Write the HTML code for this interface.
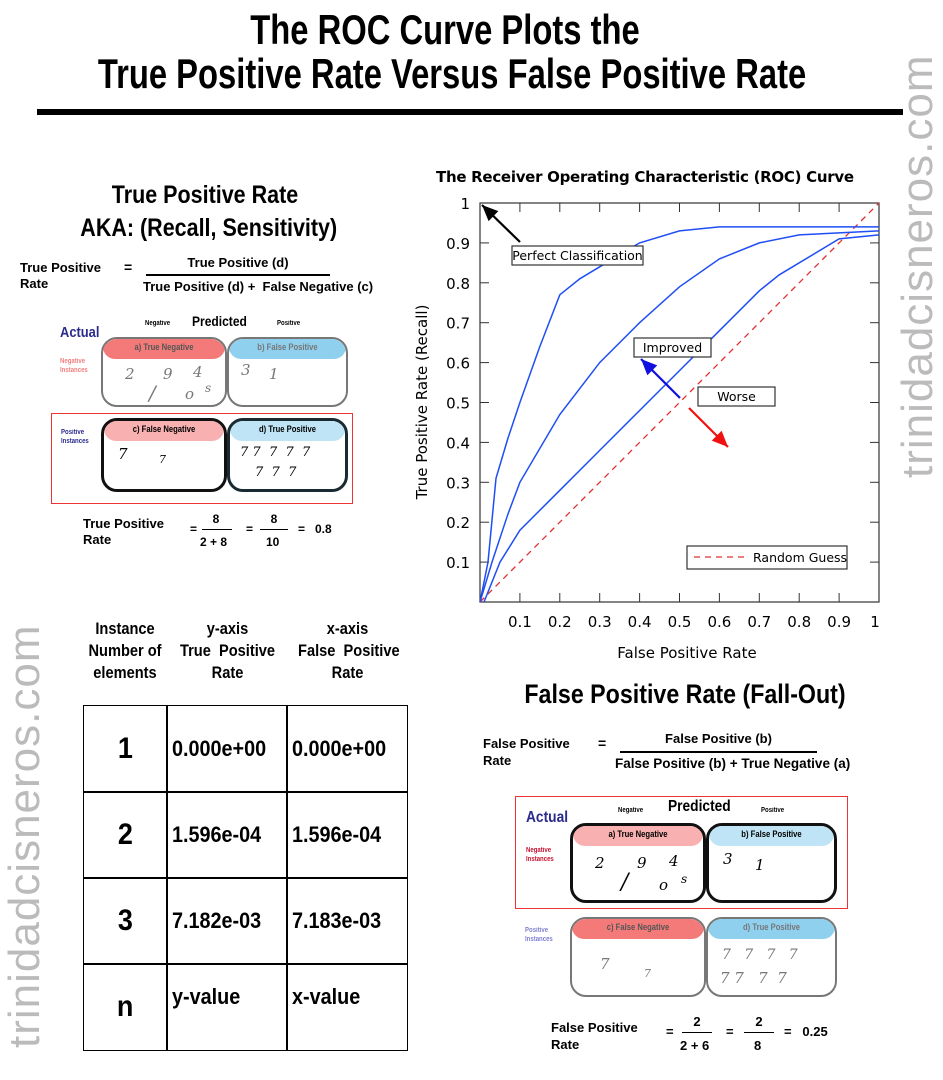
<!DOCTYPE html>
<html><head><meta charset="utf-8">
<style>
*{margin:0;padding:0;box-sizing:border-box}
body{width:943px;height:1080px;background:#fff;position:relative;overflow:hidden;font-family:"Liberation Sans",sans-serif;color:#000}
.a{position:absolute;white-space:nowrap}
.imp{font-family:"Liberation Sans Narrow","Liberation Sans",sans-serif;font-weight:bold;transform:scaleX(.86);transform-origin:0 50%}
.ctr{transform-origin:50% 50%}
.b{font-weight:bold}
.box{position:absolute;border-radius:16px;overflow:hidden;background:#fff}
.band{position:absolute;left:0;right:0;top:0;height:20px;border-radius:0 0 12px 12px}
.band span{position:absolute;left:0;right:0;text-align:center;top:3px;font-size:9px;font-weight:bold;transform:scaleX(.85)}
.dg{position:absolute;font-family:"DejaVu Serif",serif;font-style:italic;font-size:15px}
.cell{position:absolute;border:1.5px solid #000;display:flex;align-items:center}
.cell span{display:inline-block;font-weight:bold;transform:scaleX(.9);transform-origin:0 50%}
</style></head><body>

<div class="a imp ctr" style="left:0;width:890px;top:8px;text-align:center;font-size:42px;line-height:44px;transform:scaleX(.78)">The ROC Curve Plots the<br>True Positive Rate Versus False Positive Rate</div>
<div class="a" style="left:37px;top:109px;width:866px;height:6px;background:#000"></div>

<div class="a" style="left:893px;top:478px;font-size:44px;color:#bbb;transform:rotate(-90deg);transform-origin:0 0;letter-spacing:1px">trinidadcisneros.com</div>
<div class="a" style="left:0px;top:1048px;font-size:44px;color:#bbb;transform:rotate(-90deg);transform-origin:0 0;letter-spacing:1px">trinidadcisneros.com</div>

<!-- TPR section -->
<div class="a imp ctr" style="left:60px;width:290px;top:179px;text-align:center;font-size:25px;line-height:33px">True Positive Rate<br>AKA: (Recall, Sensitivity)</div>
<div class="a b" style="left:20px;top:260px;font-size:13px;line-height:16px">True Positive<br>Rate</div>
<div class="a b" style="left:124px;top:259px;font-size:14px">=</div>
<div class="a b" style="left:146px;width:184px;top:255px;text-align:center;font-size:13px">True Positive (d)</div>
<div class="a" style="left:146px;top:274px;width:184px;height:1.5px;background:#000"></div>
<div class="a b" style="left:143px;top:279px;font-size:13px">True Positive (d) +&nbsp; False Negative (c)</div>

<!-- matrix 1 -->
<div class="a imp" style="left:60px;top:324px;font-size:15px;color:#2b2b8c">Actual</div>
<div class="a imp" style="left:192px;top:313px;font-size:14px">Predicted</div>
<div class="a imp" style="left:145px;top:320px;font-size:7px">Negative</div>
<div class="a imp" style="left:277px;top:320px;font-size:7px">Positive</div>
<div class="a imp" style="left:60px;top:357px;font-size:7px;line-height:9px;color:#f08080">Negative<br>Instances</div>
<div class="a imp" style="left:61px;top:428px;font-size:7px;line-height:9px;color:#2b2b8c">Positive<br>Instances</div>
<div class="box" style="left:101px;top:337px;width:126px;height:70px;border:2.5px solid #777"><div class="band" style="background:#f47a7a"><span style="color:#555">a) True Negative</span></div>
<div class="dg" style="left:22px;top:26px;color:#777">2</div><div class="dg" style="left:60px;top:26px;color:#777">9</div><div class="dg" style="left:90px;top:24px;color:#777">4</div><div class="dg" style="left:46px;top:42px;font-size:20px;color:#777">/</div><div class="dg" style="left:82px;top:46px;color:#777">o</div><div class="dg" style="left:102px;top:42px;font-size:12px;color:#777">s</div></div>
<div class="box" style="left:227px;top:337px;width:121px;height:70px;border:2.5px solid #777"><div class="band" style="background:#8fd0ee"><span style="color:#777">b) False Positive</span></div>
<div class="dg" style="left:12px;top:22px;color:#777">3</div><div class="dg" style="left:40px;top:26px;color:#777">1</div></div>
<div class="a" style="left:51px;top:413px;width:302px;height:91px;border:1.5px solid #e33"></div>
<div class="box" style="left:101px;top:418px;width:126px;height:74px;border:3px solid #111"><div class="band" style="background:#f9b0b0"><span>c) False Negative</span></div>
<div class="dg" style="left:14px;top:24px">7</div><div class="dg" style="left:55px;top:32px;font-size:11px">7</div></div>
<div class="box" style="left:227px;top:418px;width:121px;height:74px;border:3px solid #1a2a33"><div class="band" style="background:#bfe4f5"><span>d) True Positive</span></div>
<div class="dg" style="left:10px;top:24px;font-size:13px">7 7&nbsp; 7&nbsp; 7&nbsp; 7</div><div class="dg" style="left:25px;top:44px;font-size:13px">7&nbsp; 7&nbsp; 7</div></div>

<div class="a b" style="left:83px;top:516px;font-size:13px;line-height:16px">True Positive<br>Rate</div>
<div class="a b" style="left:190px;top:512px;font-size:12px">
<span style="position:absolute;left:0;top:10px">=</span>
<span style="position:absolute;left:14px;width:24px;text-align:center;top:0">8</span>
<span style="position:absolute;left:12px;width:30px;top:17px;height:1px;background:#000"></span>
<span style="position:absolute;left:10px;top:23px">2 + 8</span>
<span style="position:absolute;left:56px;top:10px">=</span>
<span style="position:absolute;left:72px;width:24px;text-align:center;top:0">8</span>
<span style="position:absolute;left:70px;width:28px;top:17px;height:1px;background:#000"></span>
<span style="position:absolute;left:76px;top:23px">10</span>
<span style="position:absolute;left:108px;top:10px">=&nbsp;&nbsp; 0.8</span></div>

<!-- table -->
<div class="a imp ctr" style="left:75px;width:100px;top:618px;text-align:center;font-size:17px;line-height:22px">Instance<br>Number of<br>elements</div>
<div class="a imp ctr" style="left:170px;width:115px;top:618px;text-align:center;font-size:17px;line-height:22px">y-axis<br>True&nbsp; Positive<br>Rate</div>
<div class="a imp ctr" style="left:290px;width:115px;top:618px;text-align:center;font-size:17px;line-height:22px">x-axis<br>False&nbsp; Positive<br>Rate</div>
<div id="tbl" class="a" style="left:83px;top:705px;width:325px;height:346px;border:1.5px solid #000"></div>

<!-- ROC chart -->
<svg class="a" style="left:400px;top:160px" width="500" height="510" id="roc"></svg>

<!-- FPR section -->
<div class="a imp ctr" style="left:480px;width:410px;top:679px;text-align:center;font-size:27px">False Positive Rate (Fall-Out)</div>
<div class="a b" style="left:483px;top:735px;font-size:13px;line-height:17px">False Positive<br>Rate</div>
<div class="a b" style="left:598px;top:735px;font-size:14px">=</div>
<div class="a b" style="left:620px;width:197px;top:731px;text-align:center;font-size:13px">False Positive (b)</div>
<div class="a" style="left:620px;top:751px;width:197px;height:1.5px;background:#000"></div>
<div class="a b" style="left:615px;top:756px;font-size:13.5px">False Positive (b) + True Negative (a)</div>

<!-- matrix 2 -->
<div class="a" style="left:515px;top:796px;width:333px;height:113px;border:1.5px solid #e33"></div>
<div class="a imp" style="left:526px;top:809px;font-size:16px;color:#2b2b8c">Actual</div>
<div class="a imp" style="left:668px;top:798px;font-size:16px">Predicted</div>
<div class="a imp" style="left:618px;top:807px;font-size:7px">Negative</div>
<div class="a imp" style="left:761px;top:807px;font-size:7px">Positive</div>
<div class="a imp" style="left:526px;top:846px;font-size:7px;line-height:9px;color:#c8102e">Negative<br>Instances</div>
<div class="a imp" style="left:525px;top:926px;font-size:7px;line-height:9px;color:#8080d0">Positive<br>Instances</div>
<div class="box" style="left:570px;top:823px;width:136px;height:80px;border:3px solid #111"><div class="band" style="background:#f9b0b0"><span>a) True Negative</span></div>
<div class="dg" style="left:22px;top:28px">2</div><div class="dg" style="left:64px;top:28px">9</div><div class="dg" style="left:96px;top:26px">4</div><div class="dg" style="left:48px;top:44px;font-size:22px">/</div><div class="dg" style="left:86px;top:50px">o</div><div class="dg" style="left:108px;top:46px;font-size:12px">s</div></div>
<div class="box" style="left:706px;top:823px;width:131px;height:80px;border:3px solid #111"><div class="band" style="background:#bfe4f5"><span>b) False Positive</span></div>
<div class="dg" style="left:14px;top:24px">3</div><div class="dg" style="left:46px;top:30px">1</div></div>
<div class="box" style="left:570px;top:917px;width:136px;height:80px;border:2.5px solid #777"><div class="band" style="background:#f47a7a"><span style="color:#555">c) False Negative</span></div>
<div class="dg" style="left:28px;top:36px;color:#777">7</div><div class="dg" style="left:72px;top:48px;font-size:11px;color:#777">7</div></div>
<div class="box" style="left:706px;top:917px;width:131px;height:80px;border:2.5px solid #777"><div class="band" style="background:#8fd0ee"><span style="color:#777">d) True Positive</span></div>
<div class="dg" style="left:14px;top:28px;color:#777;font-size:14px">7&nbsp;&nbsp; 7&nbsp;&nbsp; 7&nbsp;&nbsp; 7</div><div class="dg" style="left:12px;top:50px;color:#777;font-size:15px">7 7&nbsp;&nbsp; 7&nbsp; 7</div></div>

<div class="a b" style="left:551px;top:1019px;font-size:13px;line-height:17px">False Positive<br>Rate</div>
<div class="a b" style="left:666px;top:1014px;font-size:13px">
<span style="position:absolute;left:0;top:10px">=</span>
<span style="position:absolute;left:16px;width:30px;text-align:center;top:0">2</span>
<span style="position:absolute;left:16px;width:30px;top:18px;height:1px;background:#000"></span>
<span style="position:absolute;left:14px;top:24px">2 + 6</span>
<span style="position:absolute;left:60px;top:10px">=</span>
<span style="position:absolute;left:78px;width:30px;text-align:center;top:0">2</span>
<span style="position:absolute;left:78px;width:30px;top:18px;height:1px;background:#000"></span>
<span style="position:absolute;left:88px;top:24px">8</span>
<span style="position:absolute;left:118px;top:10px">=&nbsp;&nbsp; 0.25</span></div>

<script>
// ---- table data ----
const rowLabels = ['1','2','3','n'];
const yValues = ['0.000e+00','1.596e-04','7.182e-03','y-value'];
const xValues = ['0.000e+00','1.596e-04','7.183e-03','x-value'];
(function(){
  const t=document.getElementById('tbl');
  const colX=[0,83,203,323], rowH=86;
  for(let r=0;r<4;r++){
    const vals=[rowLabels[r],yValues[r],xValues[r]];
    for(let c=0;c<3;c++){
      const d=document.createElement('div');
      d.className='cell';
      
      
      d.style.left=(colX[c]-1)+'px';d.style.top=(r*rowH-1)+'px';
      d.style.width=(colX[c+1]-colX[c]+1.5)+'px';d.style.height=(rowH+1.5)+'px';
      d.style.justifyContent=c==0?'center':'flex-start';
      d.style.paddingLeft=c==0?'0':'5px';
      d.style.fontSize=c==0?'30px':'22px';
      if(r==3&&c>0){d.style.alignItems='flex-start';d.style.paddingTop='20px';}
      const sp=document.createElement('span');
      sp.textContent=vals[c];
      if(c==0)sp.style.transformOrigin='50% 50%';
      d.appendChild(sp);
      t.appendChild(d);
    }
  }
})();

// ---- ROC data ----
const xTicks=[0.1,0.2,0.3,0.4,0.5,0.6,0.7,0.8,0.9,1];
const yTicks=[0.1,0.2,0.3,0.4,0.5,0.6,0.7,0.8,0.9,1];
const curve1FPR=[0,0.02,0.04,0.07,0.1,0.15,0.2,0.25,0.3,0.4,0.5,0.6,1];
const curve1TPR=[0,0.1,0.31,0.41,0.5,0.64,0.77,0.81,0.84,0.9,0.93,0.94,0.94];
const curve2FPR=[0,0.03,0.07,0.1,0.2,0.3,0.4,0.5,0.6,0.7,0.8,1];
const curve2TPR=[0,0.1,0.22,0.3,0.47,0.6,0.7,0.79,0.86,0.9,0.92,0.93];
const curve3FPR=[0.01,0.05,0.1,0.2,0.3,0.4,0.5,0.6,0.7,0.75,0.9,1];
const curve3TPR=[0,0.1,0.18,0.28,0.38,0.48,0.58,0.68,0.78,0.82,0.91,0.92];
(function(){
  const s=document.getElementById('roc'),NS='http://www.w3.org/2000/svg';
  const X0=80,X1=479,Y0=442,Y1=43;
  const sx=v=>X0+v*(X1-X0), sy=v=>Y0-v*(Y0-Y1);
  function el(tag,attrs,name,txt){const e=document.createElementNS(NS,tag);for(const k in attrs)e.setAttribute(k,attrs[k]);
    
    
    if(txt!==undefined)e.textContent=txt;s.appendChild(e);return e;}
  const F='"DejaVu Sans","Liberation Sans",sans-serif';
  el('text',{x:245,y:22,'text-anchor':'middle','font-size':15,'font-weight':'bold','font-family':F,textLength:418},'chart-title','The Receiver Operating Characteristic (ROC) Curve');
  el('rect',{x:X0,y:Y1,width:X1-X0,height:Y0-Y1,fill:'none',stroke:'#333','stroke-width':1.2},'plot-frame');
  xTicks.forEach(v=>{el('line',{x1:sx(v),x2:sx(v),y1:Y0,y2:Y0-9,stroke:'#333'},'x-tick');el('line',{x1:sx(v),x2:sx(v),y1:Y1,y2:Y1+9,stroke:'#333'},'x-tick-top');
    el('text',{x:sx(v)-(v==1?4:0),y:Y0+25,'text-anchor':'middle','font-size':15,'font-family':F},'x-tick-label',String(v));});
  yTicks.forEach(v=>{el('line',{x1:X0,x2:X0+9,y1:sy(v),y2:sy(v),stroke:'#333'},'y-tick');el('line',{x1:X1,x2:X1-9,y1:sy(v),y2:sy(v),stroke:'#333'},'y-tick-right');
    el('text',{x:X0-10,y:sy(v)+6,'text-anchor':'end','font-size':15,'font-family':F},'y-tick-label',String(v));});
  el('text',{x:287,y:498,'text-anchor':'middle','font-size':15,'font-family':F},'x-axis-title','False Positive Rate');
  el('text',{x:27,y:242,'text-anchor':'middle','font-size':15,'font-family':F,transform:'rotate(-90 27 242)'},'y-axis-title','True Positive Rate (Recall)');
  el('line',{x1:sx(0),y1:sy(0),x2:sx(1),y2:sy(1),stroke:'#e03030','stroke-width':1.3,'stroke-dasharray':'6,5'},'random-guess-line');
  [[curve1FPR,curve1TPR],[curve2FPR,curve2TPR],[curve3FPR,curve3TPR]].forEach((c,i)=>{
    let d='';c[0].forEach((x,j)=>{d+=(j?'L':'M')+sx(x).toFixed(1)+','+sy(c[1][j]).toFixed(1);});
    el('path',{d:d,fill:'none',stroke:'#1f4ef5','stroke-width':1.5},'roc-curve-'+(i+1));
  });
  function arrow(x1,y1,x2,y2,c,name){el('line',{x1,y1,x2,y2,stroke:c,'stroke-width':2.2},name);
    const a=Math.atan2(y2-y1,x2-x1),L=16,W=7;
    const p=[[x2,y2],[x2-L*Math.cos(a)+W*Math.sin(a),y2-L*Math.sin(a)-W*Math.cos(a)],[x2-L*Math.cos(a)-W*Math.sin(a),y2-L*Math.sin(a)+W*Math.cos(a)]];
    el('polygon',{points:p.map(q=>q.join(',')).join(' '),fill:c},name+'-head');}
  arrow(120,82,82,45,'#000','perfect-arrow');
  arrow(280,238,241,199,'#1010e0','improved-arrow');
  arrow(289,248,328,287,'#f01010','worse-arrow');
  function label(x,y,w,h,t,name){el('rect',{x,y,width:w,height:h,fill:'#fff',stroke:'#333','stroke-width':1.2},name+'-box');
    el('text',{x:x+w/2,y:y+h/2+4.5,'text-anchor':'middle','font-size':12.5,'font-family':F},name,t);}
  label(112,86,131,19,'Perfect Classification','perfect-label');
  label(234,178,77,19,'Improved','improved-label');
  label(298,227,77,19,'Worse','worse-label');
  el('rect',{x:287,y:386,width:160,height:23,fill:'#fff',stroke:'#333','stroke-width':1.2},'legend-box');
  el('line',{x1:294,x2:348,y1:397,y2:397,stroke:'#e03030','stroke-width':1.3,'stroke-dasharray':'6,5'},'legend-line');
  el('text',{x:353,y:402,'font-size':12.5,'font-family':F},'legend-entry','Random Guess');
})();
</script>
</body></html>
